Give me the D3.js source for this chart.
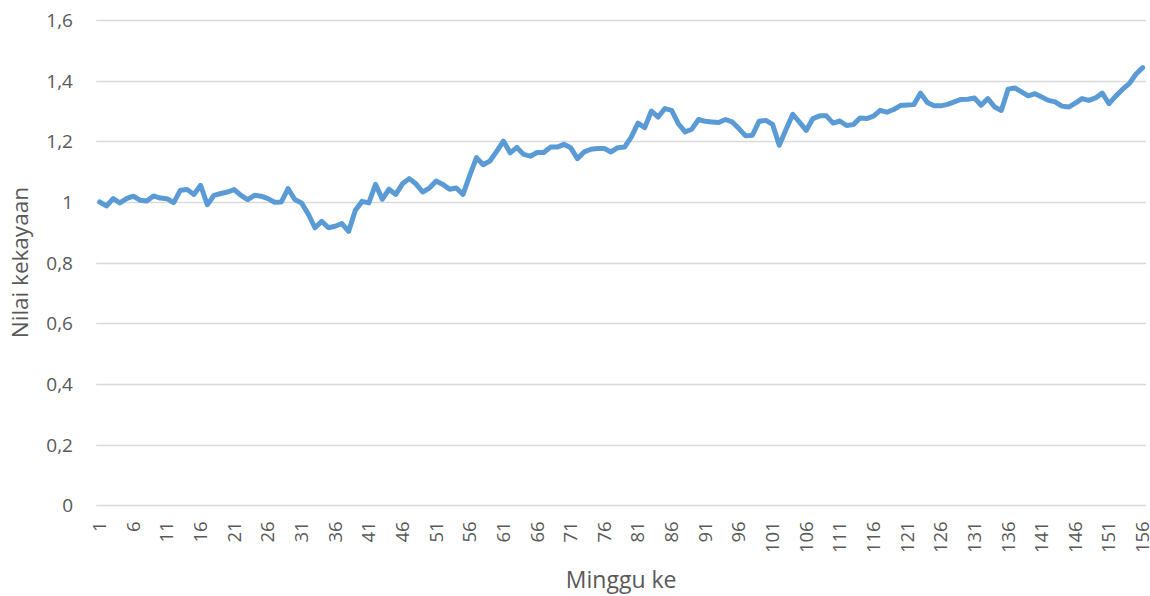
<!DOCTYPE html>
<html>
<head>
<meta charset="utf-8">
<script src="https://cdn.jsdelivr.net/npm/d3@7"></script>
<style>
  html, body { margin: 0; padding: 0; background: #ffffff; }
  svg { display: block; }
</style>
</head>
<body>
<svg id="chart" width="1150" height="596"></svg>
<script>
const weeks = d3.range(1, 157);
const yTicks = [0, 0.2, 0.4, 0.6, 0.8, 1.0, 1.2, 1.4, 1.6];
const xTickLabels = d3.range(1, 157, 5);
const xTitle = "Minggu ke";
const yTitle = "Nilai kekayaan";
const wealth = [
  1.000, 0.987, 1.011, 0.997, 1.011, 1.019, 1.006, 1.003, 1.020, 1.013,
  1.011, 0.998, 1.039, 1.041, 1.025, 1.055, 0.991, 1.022, 1.028, 1.033,
  1.041, 1.022, 1.008, 1.022, 1.019, 1.011, 0.999, 1.000, 1.044, 1.008,
  0.997, 0.960, 0.915, 0.936, 0.915, 0.920, 0.929, 0.903, 0.973, 1.002,
  0.997, 1.058, 1.009, 1.042, 1.025, 1.060, 1.077, 1.060, 1.033, 1.046,
  1.069, 1.058, 1.042, 1.046, 1.025, 1.088, 1.146, 1.123, 1.135, 1.167,
  1.201, 1.162, 1.180, 1.157, 1.151, 1.163, 1.163, 1.181, 1.181, 1.190,
  1.179, 1.143, 1.165, 1.174, 1.176, 1.176, 1.165, 1.179, 1.181, 1.214,
  1.260, 1.245, 1.300, 1.280, 1.308, 1.302, 1.258, 1.231, 1.240, 1.272,
  1.266, 1.264, 1.262, 1.272, 1.264, 1.242, 1.218, 1.220, 1.266, 1.269,
  1.256, 1.187, 1.239, 1.289, 1.263, 1.236, 1.275, 1.284, 1.284, 1.260,
  1.267, 1.252, 1.255, 1.277, 1.275, 1.283, 1.302, 1.296, 1.305, 1.318,
  1.320, 1.321, 1.359, 1.328, 1.317, 1.317, 1.322, 1.330, 1.338, 1.339,
  1.343, 1.319, 1.341, 1.313, 1.302, 1.372, 1.376, 1.363, 1.350, 1.357,
  1.346, 1.335, 1.330, 1.316, 1.313, 1.326, 1.341, 1.335, 1.343, 1.359,
  1.324, 1.349, 1.371, 1.390, 1.421, 1.443
];
const series = weeks.map((w, i) => ({ week: w, value: wealth[i] }));

const svg = d3.select("#chart");
const plot = { left: 96.3, right: 1146, top: 20, bottom: 505.3 };
const font = "'Open Sans', 'DejaVu Sans', sans-serif";
const textColor = "#595959";

const x = d3.scaleBand().domain(weeks).range([plot.left, plot.right]).padding(0);
const y = d3.scaleLinear().domain([0, 1.6]).range([plot.bottom, plot.top]);
const fmt = v => (v === 0 ? "0" : (Number.isInteger(v) ? String(v) : v.toFixed(1).replace(".", ",")));

// gridlines
svg.append("g")
  .selectAll("line")
  .data(yTicks)
  .join("line")
  .attr("x1", plot.left)
  .attr("x2", plot.right)
  .attr("y1", d => Math.round(y(d)) + 0.5)
  .attr("y2", d => Math.round(y(d)) + 0.5)
  .attr("stroke", "#d9d9d9")
  .attr("stroke-width", 1.3);

// y axis labels
const yAxis = d3.axisLeft(y).tickValues(yTicks).tickFormat(fmt).tickSize(0).tickPadding(0);
const yg = svg.append("g").attr("transform", `translate(73,0)`).call(yAxis);
yg.select(".domain").remove();
yg.selectAll("text")
  .attr("fill", textColor)
  .style("font-family", font)
  .style("font-size", "19px")
  .attr("x", 0)
  .attr("dy", "0.35em");

// x axis labels
const xAxis = d3.axisBottom(x).tickValues(xTickLabels).tickSize(0).tickPadding(0);
const xg = svg.append("g").attr("transform", `translate(0,${plot.bottom})`).call(xAxis);
xg.select(".domain").remove();
xg.selectAll("text")
  .attr("fill", textColor)
  .style("font-family", font)
  .style("font-size", "18.5px")
  .attr("text-anchor", "end")
  .attr("dy", "0.35em")
  .attr("y", 0)
  .attr("transform", "translate(0,16) rotate(-90)");

// line
const line = d3.line()
  .x(d => x(d.week) + x.bandwidth() / 2)
  .y(d => y(d.value));
svg.append("path")
  .datum(series.filter(d => d.value != null))
  .attr("d", line)
  .attr("fill", "none")
  .attr("stroke", "#5b9bd5")
  .attr("stroke-width", 5)
  .attr("stroke-linejoin", "round")
  .attr("stroke-linecap", "round");

// axis titles
svg.append("text")
  .attr("x", (plot.left + plot.right) / 2)
  .attr("y", 582)
  .attr("text-anchor", "middle")
  .attr("dominant-baseline", "middle")
  .attr("fill", textColor)
  .style("font-family", font)
  .style("font-size", "23px")
  .text(xTitle);

svg.append("text")
  .attr("transform", `translate(22,${(plot.top + plot.bottom) / 2}) rotate(-90)`)
  .attr("text-anchor", "middle")
  .attr("dominant-baseline", "middle")
  .attr("fill", textColor)
  .style("font-family", font)
  .style("font-size", "22.5px")
  .text(yTitle);
</script>
</body>
</html>
